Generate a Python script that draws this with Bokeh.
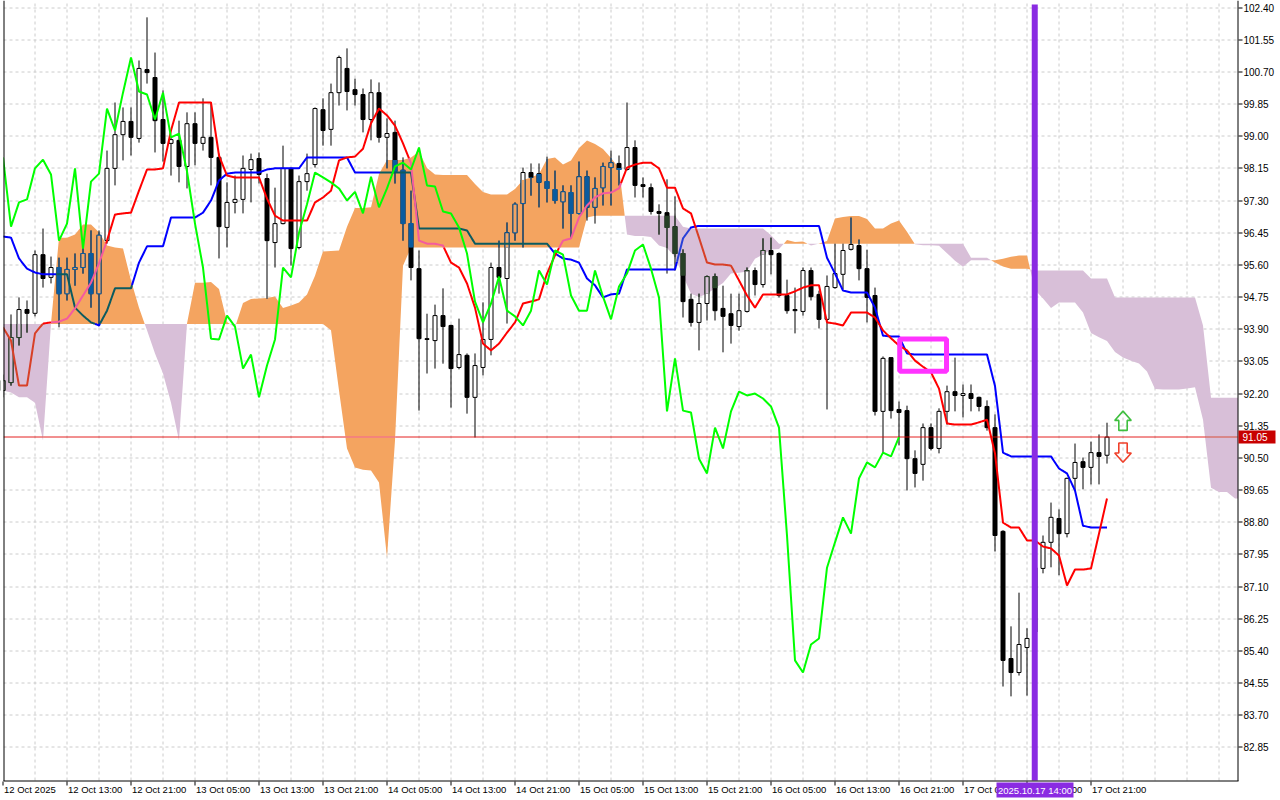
import numpy as np
from bokeh.plotting import figure
from bokeh.models import Range1d
from bokeh.core.properties import value
from bokeh.embed import file_html
from bokeh.resources import INLINE

# ---------------- data (hourly bars, bar 0 = 12 Oct 05:00) ----------------
time_labels = ["12 Oct 2025", "12 Oct 13:00", "12 Oct 21:00", "13 Oct 05:00", "13 Oct 13:00",
               "13 Oct 21:00", "14 Oct 05:00", "14 Oct 13:00", "14 Oct 21:00", "15 Oct 05:00",
               "15 Oct 13:00", "15 Oct 21:00", "16 Oct 05:00", "16 Oct 13:00", "16 Oct 21:00",
               "17 Oct 05:00", "17 Oct 13:00", "17 Oct 21:00"]
label_bars = [0, 8, 16, 24, 32, 40, 48, 56, 64, 72, 80, 88, 96, 104, 112, 120, 128, 136]

price_ticks = [82.85, 83.70, 84.55, 85.40, 86.25, 87.10, 87.95, 88.80, 89.65, 90.50, 91.35, 92.20,
               93.05, 93.90, 94.75, 95.60, 96.45, 97.30, 98.15, 99.00, 99.85, 100.70, 101.55, 102.40]

opens = [92.28, 92.49, 93.68, 94.42, 94.32, 95.87, 95.27, 95.53, 94.84, 95.48,
         95.53, 95.90, 94.84, 96.24, 98.15, 99.04, 99.39, 98.94, 100.76, 100.55,
         99.44, 98.81, 98.89, 98.20, 99.33, 98.81, 98.97, 98.44, 96.59, 97.25,
         97.33, 98.12, 98.41, 97.88, 96.19, 96.69, 98.15, 96.06, 97.80, 98.25,
         99.70, 99.18, 100.15, 100.79, 100.23, 100.10, 99.44, 100.15, 98.97, 99.10,
         98.10, 96.69, 95.50, 93.65, 93.60, 94.26, 94.00, 92.89, 93.21, 92.10,
         92.89, 93.63, 95.53, 95.24, 96.45, 97.22, 98.04, 98.01, 97.80, 97.59,
         97.27, 97.51, 96.96, 97.93, 97.12, 97.64, 98.17, 98.28, 98.12, 98.70,
         97.72, 97.64, 97.01, 96.98, 96.61, 95.90, 94.69, 94.08, 94.58, 95.29,
         94.45, 94.31, 93.97, 94.37, 95.45, 95.08, 95.98, 95.90, 94.79, 94.42,
         94.37, 95.45, 94.82, 94.16, 95.00, 95.35, 96.01, 96.11, 95.50, 94.79,
         91.73, 93.15, 91.78, 91.75, 90.48, 90.33, 91.30, 90.75, 91.73, 92.25,
         92.15, 92.20, 92.10, 91.86, 91.30, 88.56, 85.20, 84.83, 85.49, 85.90,
         87.58, 88.27, 88.90, 88.50, 89.96, 90.40, 90.25, 90.64, 90.57]
highs = [92.70, 94.29, 94.74, 94.66, 95.98, 96.56, 95.82, 95.79, 95.79, 95.90,
         96.16, 96.51, 96.51, 98.62, 99.89, 99.76, 99.76, 101.00, 102.14, 101.21,
         100.21, 98.97, 99.41, 99.63, 99.63, 100.00, 99.89, 98.54, 97.78, 97.96,
         98.49, 98.54, 98.57, 98.01, 97.64, 98.75, 98.17, 97.96, 98.54, 99.76,
         100.00, 100.39, 101.13, 101.32, 100.52, 100.26, 100.50, 100.42, 99.47, 99.41,
         98.44, 97.56, 95.98, 94.31, 94.55, 94.98, 94.02, 94.18, 93.26, 93.26,
         94.61, 95.66, 96.24, 96.72, 97.25, 98.17, 98.28, 98.28, 98.46, 98.09,
         97.70, 97.70, 98.33, 98.09, 97.91, 98.30, 98.62, 98.49, 99.89, 98.89,
         97.91, 97.75, 97.20, 97.86, 97.41, 96.01, 94.84, 94.84, 95.32, 95.37,
         95.05, 94.84, 94.84, 95.53, 95.53, 96.30, 96.32, 95.93, 95.21, 95.00,
         95.53, 95.53, 94.92, 95.32, 96.16, 96.16, 96.85, 96.27, 96.00, 95.00,
         93.18, 93.15, 91.99, 91.88, 90.70, 91.41, 91.41, 91.81, 92.41, 93.15,
         92.44, 92.44, 92.12, 92.02, 91.65, 88.59, 86.05, 86.94, 86.00, 87.90,
         88.45, 89.32, 89.14, 89.98, 90.88, 90.51, 90.93, 91.12, 91.43]
lows = [92.10, 92.41, 93.47, 93.81, 94.24, 95.00, 95.11, 93.95, 94.66, 95.05,
        95.37, 94.47, 93.98, 96.16, 97.70, 98.36, 98.49, 98.83, 100.39, 98.57,
        98.33, 97.96, 97.78, 97.62, 98.23, 98.62, 97.70, 95.77, 96.06, 96.96,
        96.96, 97.25, 97.75, 94.71, 95.53, 96.67, 95.58, 96.01, 97.56, 98.17,
        98.75, 98.75, 99.81, 99.68, 99.81, 99.10, 98.89, 98.83, 98.15, 97.75,
        96.24, 95.19, 91.75, 92.73, 92.86, 92.99, 91.83, 92.84, 91.67, 91.04,
        92.68, 93.21, 94.84, 94.05, 96.24, 96.06, 97.43, 97.12, 97.25, 97.22,
        96.56, 96.32, 96.93, 96.77, 96.69, 97.17, 97.17, 97.70, 98.09, 97.38,
        97.38, 96.93, 96.40, 95.37, 95.45, 94.21, 93.97, 93.34, 94.13, 94.13,
        93.29, 93.52, 93.86, 94.34, 94.79, 95.00, 95.35, 94.74, 94.31, 93.79,
        94.26, 94.66, 93.92, 91.78, 94.97, 94.95, 95.98, 95.19, 94.08, 91.62,
        90.62, 91.54, 90.83, 89.64, 89.72, 89.90, 90.70, 90.62, 91.38, 91.73,
        91.57, 91.73, 91.73, 91.22, 88.03, 84.46, 84.20, 84.75, 84.22, 85.85,
        87.45, 87.61, 87.40, 88.40, 89.64, 89.67, 89.80, 89.80, 90.35]
closes = [92.54, 93.68, 94.42, 94.32, 95.87, 95.24, 95.53, 94.84, 95.48, 95.53,
          95.90, 94.84, 96.38, 98.15, 99.04, 99.39, 98.97, 100.79, 100.68, 99.41,
          98.81, 98.91, 98.20, 99.33, 98.81, 98.97, 98.44, 96.61, 97.25, 97.33,
          98.15, 98.38, 97.99, 96.24, 96.69, 98.15, 96.03, 97.80, 98.01, 99.73,
          99.15, 100.15, 101.08, 100.18, 100.10, 99.44, 100.15, 98.97, 99.07, 98.07,
          96.69, 95.53, 93.65, 93.63, 94.26, 93.97, 92.86, 93.23, 92.10, 92.94,
          93.63, 95.53, 95.27, 96.45, 97.20, 98.04, 97.91, 97.78, 97.62, 97.30,
          97.53, 96.96, 97.93, 97.12, 97.62, 98.20, 98.30, 98.12, 98.70, 97.70,
          97.67, 97.01, 96.96, 96.59, 95.90, 94.63, 94.08, 94.58, 95.29, 94.39,
          94.24, 94.00, 94.39, 95.45, 95.08, 95.98, 95.87, 94.79, 94.39, 94.39,
          95.45, 94.76, 94.16, 95.03, 95.37, 95.98, 96.14, 95.50, 94.74, 91.73,
          93.13, 91.75, 91.70, 90.48, 90.09, 91.30, 90.75, 91.73, 92.25, 92.15,
          92.20, 92.07, 91.86, 91.30, 88.45, 85.15, 84.83, 85.57, 85.73, 87.60,
          88.27, 88.93, 88.50, 89.96, 90.38, 90.25, 90.64, 90.54, 91.05]

tenkan = [93.95, 93.60, 92.41, 92.41, 93.79, 94.05, 94.08, 94.10, 94.18, 94.45,
          94.79, 95.13, 95.64, 96.24, 96.93, 96.96, 96.98, 97.56, 98.12, 98.12,
          98.15, 99.15, 99.89, 99.89, 99.89, 99.89, 99.89, 98.49, 97.96, 97.91,
          97.91, 97.91, 97.91, 97.35, 96.90, 96.77, 96.77, 96.77, 96.77, 97.25,
          97.38, 97.56, 98.36, 98.44, 98.46, 98.67, 99.34, 99.73, 99.55, 99.28,
          98.81, 98.28, 96.24, 96.16, 96.16, 96.11, 95.66, 95.53, 95.11, 94.47,
          93.52, 93.34, 93.52, 93.81, 94.08, 94.58, 94.63, 94.69, 95.37, 95.85,
          96.24, 96.30, 96.85, 97.17, 97.38, 97.49, 97.51, 97.62, 98.17, 98.25,
          98.30, 98.30, 98.15, 97.64, 97.64, 97.09, 96.96, 96.32, 95.66, 95.61,
          95.61, 95.58, 95.19, 94.79, 94.47, 94.82, 94.82, 94.82, 94.82, 94.90,
          95.00, 95.06, 95.06, 94.08, 94.05, 94.00, 94.34, 94.34, 94.34, 94.21,
          93.87, 93.66, 93.47, 93.34, 93.07, 92.91, 92.76, 92.33, 91.41, 91.38,
          91.38, 91.38, 91.44, 91.51, 90.62, 88.79, 88.66, 88.66, 88.32, 88.32,
          88.16, 88.11, 87.92, 87.13, 87.55, 87.55, 87.58, 88.50, 89.43]
kijun = [96.35, 96.32, 95.77, 95.50, 95.40, 95.35, 95.35, 95.35, 95.35, 94.47,
         94.26, 94.08, 94.00, 94.39, 94.98, 94.98, 94.98, 95.66, 96.09, 96.09,
         96.09, 96.85, 96.85, 96.85, 96.85, 96.98, 97.30, 97.83, 98.01, 98.04,
         98.04, 98.04, 98.04, 98.12, 98.15, 98.15, 98.15, 98.15, 98.44, 98.44,
         98.44, 98.44, 98.44, 98.44, 98.04, 98.04, 98.04, 98.04, 98.04, 98.04,
         98.04, 98.04, 96.56, 96.56, 96.56, 96.56, 96.56, 96.56, 96.51, 96.16,
         96.16, 96.16, 96.16, 96.16, 96.16, 96.16, 96.16, 96.16, 96.16, 95.90,
         95.77, 95.74, 95.66, 95.24, 95.06, 94.74, 94.82, 94.84, 95.48, 95.48,
         95.48, 95.48, 95.48, 95.48, 95.48, 96.30, 96.59, 96.63, 96.63, 96.63,
         96.63, 96.63, 96.63, 96.63, 96.63, 96.63, 96.63, 96.63, 96.63, 96.63,
         96.63, 96.63, 96.63, 95.79, 95.37, 94.92, 94.87, 94.87, 94.87, 94.47,
         93.73, 93.71, 93.71, 93.26, 93.23, 93.23, 93.23, 93.23, 93.23, 93.23,
         93.23, 93.23, 93.23, 93.23, 92.40, 90.64, 90.54, 90.54, 90.54, 90.54,
         90.54, 90.54, 90.22, 90.09, 89.64, 88.71, 88.66, 88.66, 88.66]

# Senkou span A for the first 26 bars (built from bars before the window)
span_a_lead = [92.28, 92.23, 92.10, 92.10, 91.96, 90.96, 94.05, 96.32, 96.32, 96.40,
               96.67, 96.67, 96.46, 96.11, 96.06, 96.03, 95.19, 94.47, 93.87, 93.26,
               92.73, 91.96, 90.96, 94.05, 95.13, 95.13]
# Senkou span B, bars 0..155
span_b = [94.04] * 41 + [93.87, 92.28, 90.75, 90.25, 90.19, 90.17, 89.85, 87.87, 90.96, 95.58] \
    + [96.06] * 22 + [96.85] + [96.90] * 11 + [96.61] + [96.56] * 10 + [96.38] \
    + [96.16] * 24 + [95.79] * 3 + [95.66, 95.56] + [95.50] * 3 + [95.45] * 7 \
    + [95.24] * 3 + [94.74] * 11 + [94.00] + [92.09] * 5

SHIFT = 26
current_price = 91.05
marker_bar = 129
marker_text = "2025.10.17 14:00"
box_bars = (112.09, 117.94)
box_prices = (92.79, 93.64)
arrow_bar = 140
arrow_up_price = 91.48
arrow_down_price = 90.64

# ---------------- layout (terminal-like pixel geometry) ----------------
W, H = 1280, 800
PX_BAR, X_OFF = 8.0, 2.5
PX_PRICE, P_REF, Y_REF = 37.85, 102.40, 7.0
LEFT, RIGHT, TOP, BOTTOM = 3, 1237, 3, 780
FONT = value("Liberation Sans")
GRID = "#cccccc"
ORANGE, THISTLE = "#F4A460", "#D8BFD8"
# colours of marks seen through the (xor-drawn) cloud
THRU = {"orange": {"black": "#0B5B9F", "red": "#F45B9F", "blue": "#0B5B60", "fill": ORANGE},
        "thistle": {"black": "#274027", "red": "#D84027", "blue": "#2740D8", "fill": THISTLE}}


def bx(sx):
    return (sx - X_OFF) / PX_BAR


def py(sy):
    return P_REF - (sy - Y_REF) / PX_PRICE


def snap(price):
    # put a 1px horizontal line on a pixel row
    return py(np.floor(Y_REF + (P_REF - price) * PX_PRICE) + 0.5)


p = figure(width=W, height=H, x_range=Range1d(bx(0), bx(W)), y_range=Range1d(py(H), py(0)),
           x_axis_type=None, y_axis_type=None, toolbar_location=None, output_backend="svg",
           min_border=0, outline_line_color=None, background_fill_color="white",
           border_fill_color="white")

# grid
gx = [b for b in range(0, 200, 4) if LEFT < X_OFF + b * PX_BAR < RIGHT]
p.segment(x0=gx, y0=[py(TOP)] * len(gx), x1=gx, y1=[py(BOTTOM)] * len(gx),
          line_color=GRID, line_dash="3 3", line_width=1)
gy = [snap(v) for v in price_ticks]
p.segment(x0=[bx(LEFT)] * len(gy), y0=gy, x1=[bx(RIGHT)] * len(gy), y1=gy,
          line_color=GRID, line_dash="3 3", line_width=1)

# ---------------- Ichimoku cloud ----------------
n_cloud = len(span_b)
span_a = list(span_a_lead) + [(tenkan[i] + kijun[i]) / 2 for i in range(n_cloud - SHIFT)]
A = np.array(span_a)
B = np.array(span_b)

cx, ca, cb = [], [], []
for i in range(n_cloud):
    cx.append(i); ca.append(A[i]); cb.append(B[i])
    if i < n_cloud - 1:
        d0 = A[i] - B[i]
        d1 = A[i + 1] - B[i + 1]
        if d0 * d1 < 0:
            t = d0 / (d0 - d1)
            v = A[i] + t * (A[i + 1] - A[i])
            cx.append(i + t); ca.append(v); cb.append(v)
ca = np.array(ca); cb = np.array(cb)
p.varea(x=cx, y1=cb, y2=np.maximum(ca, cb), fill_color=ORANGE)
p.varea(x=cx, y1=np.minimum(ca, cb), y2=cb, fill_color=THISTLE)


def cloud_at(xf):
    i = int(np.floor(xf))
    if i < 0 or i >= n_cloud - 1:
        return None
    t = xf - i
    return A[i] + t * (A[i + 1] - A[i]), B[i] + t * (B[i + 1] - B[i])


def state_at(xf, yv):
    c = cloud_at(xf)
    if c is None:
        return None
    a, b = c
    if a != b and min(a, b) <= yv <= max(a, b):
        return "orange" if a > b else "thistle"
    return None


def split_line(xs, ys, base, key, steps=8):
    out_x, out_y, out_c = [], [], []
    cur, px_, py_ = "init", [], []
    for i in range(len(xs) - 1):
        for k in range(steps):
            xa = xs[i] + (xs[i + 1] - xs[i]) * k / steps
            ya = ys[i] + (ys[i + 1] - ys[i]) * k / steps
            xb = xs[i] + (xs[i + 1] - xs[i]) * (k + 1) / steps
            yb = ys[i] + (ys[i + 1] - ys[i]) * (k + 1) / steps
            st = state_at((xa + xb) / 2, (ya + yb) / 2)
            if st != cur:
                if px_:
                    out_x.append(px_); out_y.append(py_)
                    out_c.append(base if cur is None else THRU[cur][key])
                cur, px_, py_ = st, [xa], [ya]
            px_.append(xb); py_.append(yb)
    if px_:
        out_x.append(px_); out_y.append(py_)
        out_c.append(base if cur is None else THRU[cur][key])
    return out_x, out_y, out_c


# ---------------- candles ----------------
idx = np.arange(len(closes))
o = np.array(opens); c = np.array(closes); h = np.array(highs); l = np.array(lows)
BODY = 4 / PX_BAR
p.segment(x0=idx, y0=l, x1=idx, y1=h, line_color="black", line_width=1)
up = c >= o
p.vbar(x=idx[up], width=BODY, top=c[up], bottom=o[up], fill_color="white", line_color="black", line_width=1)
p.vbar(x=idx[~up], width=BODY, top=o[~up], bottom=c[~up], fill_color="black", line_color="black", line_width=1)

# parts of candles inside the cloud
half_px = 0.5 / PX_PRICE
wx, w0s, w1s, wcol = [], [], [], []
ql, qr, qb, qt, qc = [], [], [], [], []
il, ir, ib, it_, ic = [], [], [], [], []
for i in idx:
    cc = cloud_at(i)
    if cc is None or cc[0] == cc[1]:
        continue
    kind = "orange" if cc[0] > cc[1] else "thistle"
    lo, hi = min(cc), max(cc)
    w0, w1 = max(l[i], lo), min(h[i], hi)
    if w1 > w0:
        wx.append(i); w0s.append(w0); w1s.append(w1); wcol.append(THRU[kind]["black"])
    bot, top = min(o[i], c[i]), max(o[i], c[i])
    b0, b1 = max(bot - half_px, lo), min(top + half_px, hi)
    if b1 > b0:
        ql.append(i - 2.5 / PX_BAR); qr.append(i + 2.5 / PX_BAR); qb.append(b0); qt.append(b1)
        qc.append(THRU[kind]["black"])
        if c[i] >= o[i]:
            i0, i1 = max(bot + half_px, lo), min(top - half_px, hi)
            if i1 > i0:
                il.append(i - 1.5 / PX_BAR); ir.append(i + 1.5 / PX_BAR); ib.append(i0); it_.append(i1)
                ic.append(THRU[kind]["fill"])
p.segment(x0=wx, y0=w0s, x1=wx, y1=w1s, line_color=wcol, line_width=1)
p.quad(left=ql, right=qr, bottom=qb, top=qt, fill_color=qc, line_color=None)
p.quad(left=il, right=ir, bottom=ib, top=it_, fill_color=ic, line_color=None)

# current price line
yl = snap(current_price)
lx, ly, lc = split_line([bx(LEFT), bx(RIGHT)], [yl, yl], "#E00000", "red", steps=RIGHT - LEFT)
p.multi_line(xs=lx, ys=ly, line_color=lc, line_width=1)

# ---------------- Kijun / Tenkan / Chikou ----------------
kx, ky, kc = split_line(list(idx), kijun, "#0000FF", "blue")
p.multi_line(xs=kx, ys=ky, line_color=kc, line_width=2)
tx, ty, tc = split_line(list(idx), tenkan, "#FF0000", "red")
p.multi_line(xs=tx, ys=ty, line_color=tc, line_width=2)
p.line(idx[SHIFT:] - SHIFT, c[SHIFT:], line_color="#00FF00", line_width=2)

# rectangle object
p.quad(left=[box_bars[0]], right=[box_bars[1]], bottom=[box_prices[0]], top=[box_prices[1]],
       fill_alpha=0, line_color="#FF33FF", line_width=5)

# arrows (outline shapes, offsets in pixels)
shape = [(0, 9.7), (8.3, 0.4), (4.2, 0.4), (4.2, -9.6), (-4.2, -9.6), (-4.2, 0.4), (-8.3, 0.4)]
p.patch([arrow_bar + sx / PX_BAR for sx, sy in shape],
        [arrow_up_price + sy / PX_PRICE for sx, sy in shape],
        fill_alpha=0.0, line_color="#3fbf3f", line_width=1.6)
p.patch([arrow_bar + sx / PX_BAR for sx, sy in shape],
        [arrow_down_price - sy / PX_PRICE for sx, sy in shape],
        fill_alpha=0.0, line_color="#f0402a", line_width=1.6)

# vertical marker line
p.segment(x0=[marker_bar - 0.25 / PX_BAR], y0=[py(TOP + 1)], x1=[marker_bar - 0.25 / PX_BAR],
          y1=[py(BOTTOM)], line_color="#8A2BE2", line_width=6)

# ---------------- margins, frame and scales ----------------
p.quad(left=[bx(RIGHT + 0.5), bx(0), bx(0)], right=[bx(W), bx(W), bx(LEFT)],
       top=[py(0), py(BOTTOM + 0.5), py(0)], bottom=[py(H), py(H), py(H)],
       fill_color="white", line_color=None)
p.segment(x0=[bx(LEFT + 0.5), bx(LEFT), bx(RIGHT + 0.5)],
          y0=[py(0), py(BOTTOM + 0.5), py(0)],
          x1=[bx(LEFT + 0.5), bx(RIGHT + 1), bx(RIGHT + 0.5)],
          y1=[py(BOTTOM + 0.5), py(BOTTOM + 0.5), py(BOTTOM + 0.5)],
          line_color="black", line_width=1)

# price scale
n_t = len(price_ticks)
p.segment(x0=[bx(RIGHT + 1)] * n_t, y0=gy, x1=[bx(RIGHT + 5)] * n_t, y1=gy,
          line_color="black", line_width=1)
p.text(x=[bx(RIGHT + 6)] * n_t, y=price_ticks, text=["%.2f" % v for v in price_ticks],
       text_font=FONT, text_font_size="10px", text_align="left", text_baseline="middle",
       text_color="black")

# time scale
n_l = len(label_bars)
p.segment(x0=label_bars, y0=[py(BOTTOM + 1)] * n_l, x1=label_bars, y1=[py(BOTTOM + 5)] * n_l,
          line_color="black", line_width=1)
p.text(x=[b + 1 / PX_BAR for b in label_bars], y=[py(BOTTOM + 3)] * n_l, text=time_labels,
       text_font=FONT, text_font_size="9.5px", text_align="left", text_baseline="top",
       text_color="black")

# current price tag
p.quad(left=[bx(RIGHT + 1)], right=[bx(RIGHT + 38)], top=[current_price + 6.5 / PX_PRICE],
       bottom=[current_price - 6.5 / PX_PRICE], fill_color="#C80000", line_color=None)
p.text(x=[bx(RIGHT + 5)], y=[current_price], text=["%.2f" % current_price], text_font=FONT,
       text_font_size="10px", text_align="left", text_baseline="middle", text_color="white")

# marker time tag
p.quad(left=[marker_bar - 38.5 / PX_BAR], right=[marker_bar + 38.5 / PX_BAR],
       top=[py(BOTTOM + 2)], bottom=[py(BOTTOM + 17)], fill_color="#8A2BE2", line_color=None)
p.text(x=[marker_bar], y=[py(BOTTOM + 9.5)], text=[marker_text], text_font=FONT,
       text_font_size="9.5px", text_align="center", text_baseline="middle", text_color="white")

open("out.html", "w").write(file_html(p, INLINE))
